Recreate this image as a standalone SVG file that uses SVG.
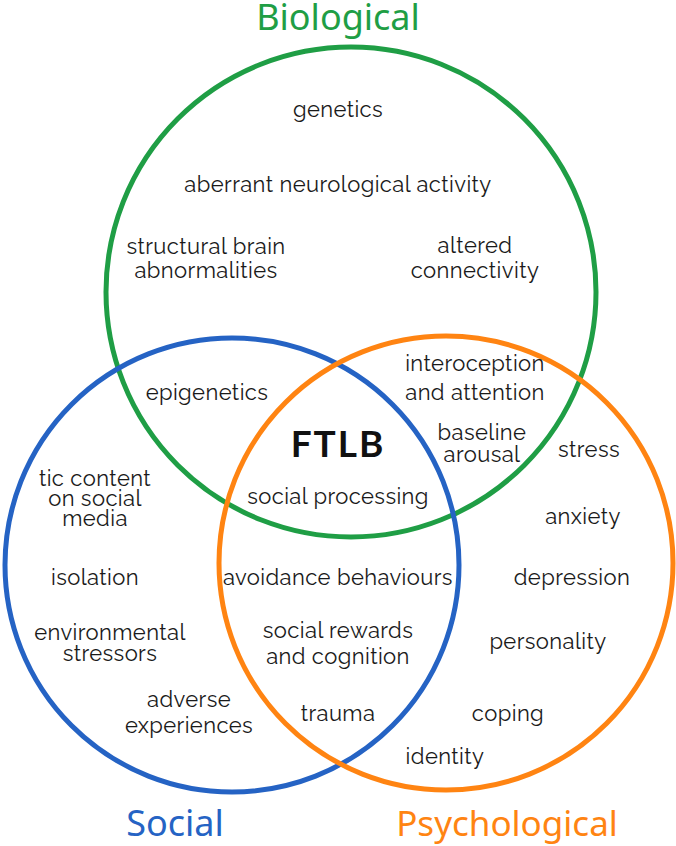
<svg xmlns="http://www.w3.org/2000/svg" width="676" height="846" viewBox="0 0 676 846">
<style>
.c{fill:none;stroke-width:5}
.t{font-family:Raleway,Lato,"Open Sans",sans-serif;font-size:22px;letter-spacing:0.4px;fill:#1a1a1a;text-anchor:middle}
.h{font-family:"Noto Sans",Lato,sans-serif;font-size:36px;text-anchor:middle}
</style>
<rect width="676" height="846" fill="#fff"/>
<g id="circles">
<circle id="biological" class="c" cx="351" cy="292" r="245" stroke="#1f9e45"/>
<circle id="social" class="c" cx="232" cy="565" r="227" stroke="#2563c4"/>
<circle id="psychological" class="c" cx="446" cy="563" r="227" stroke="#ff8412"/>
</g>
<g id="titles">
<text class="h" x="338" y="30" fill="#1f9e45">Biological</text>
<text class="h" x="175" y="836" fill="#2563c4">Social</text>
<text class="h" x="507" y="836" fill="#ff8412" style="font-size:35px">Psychological</text>
</g>
<g id="labels">
<text class="t" x="338" y="117">genetics</text>
<text class="t" x="338" y="192">aberrant neurological activity</text>
<text class="t" x="206" y="254">structural brain</text>
<text class="t" x="206" y="278">abnormalities</text>
<text class="t" x="475" y="253">altered</text>
<text class="t" x="475" y="278">connectivity</text>
<text class="t" x="207" y="400">epigenetics</text>
<text class="t" x="475" y="371">interoception</text>
<text class="t" x="475" y="400">and attention</text>
<text class="t" x="482" y="440">baseline</text>
<text class="t" x="482" y="462">arousal</text>
<text class="t" x="589" y="457">stress</text>
<text x="338" y="457" style="font-family:Lato,'Open Sans',sans-serif;font-size:37px;font-weight:bold;letter-spacing:2px;fill:#111;text-anchor:middle">FTLB</text>
<text class="t" x="338" y="504">social processing</text>
<text class="t" x="95" y="486">tic content</text>
<text class="t" x="95" y="506">on social</text>
<text class="t" x="95" y="526">media</text>
<text class="t" x="583" y="524">anxiety</text>
<text class="t" x="95" y="585">isolation</text>
<text class="t" x="338" y="585">avoidance behaviours</text>
<text class="t" x="572" y="585">depression</text>
<text class="t" x="110" y="640">environmental</text>
<text class="t" x="110" y="661">stressors</text>
<text class="t" x="338" y="638">social rewards</text>
<text class="t" x="338" y="664">and cognition</text>
<text class="t" x="548" y="649">personality</text>
<text class="t" x="189" y="707">adverse</text>
<text class="t" x="189" y="733">experiences</text>
<text class="t" x="338" y="721">trauma</text>
<text class="t" x="508" y="721">coping</text>
<text class="t" x="445" y="764">identity</text>
</g>
</svg>
